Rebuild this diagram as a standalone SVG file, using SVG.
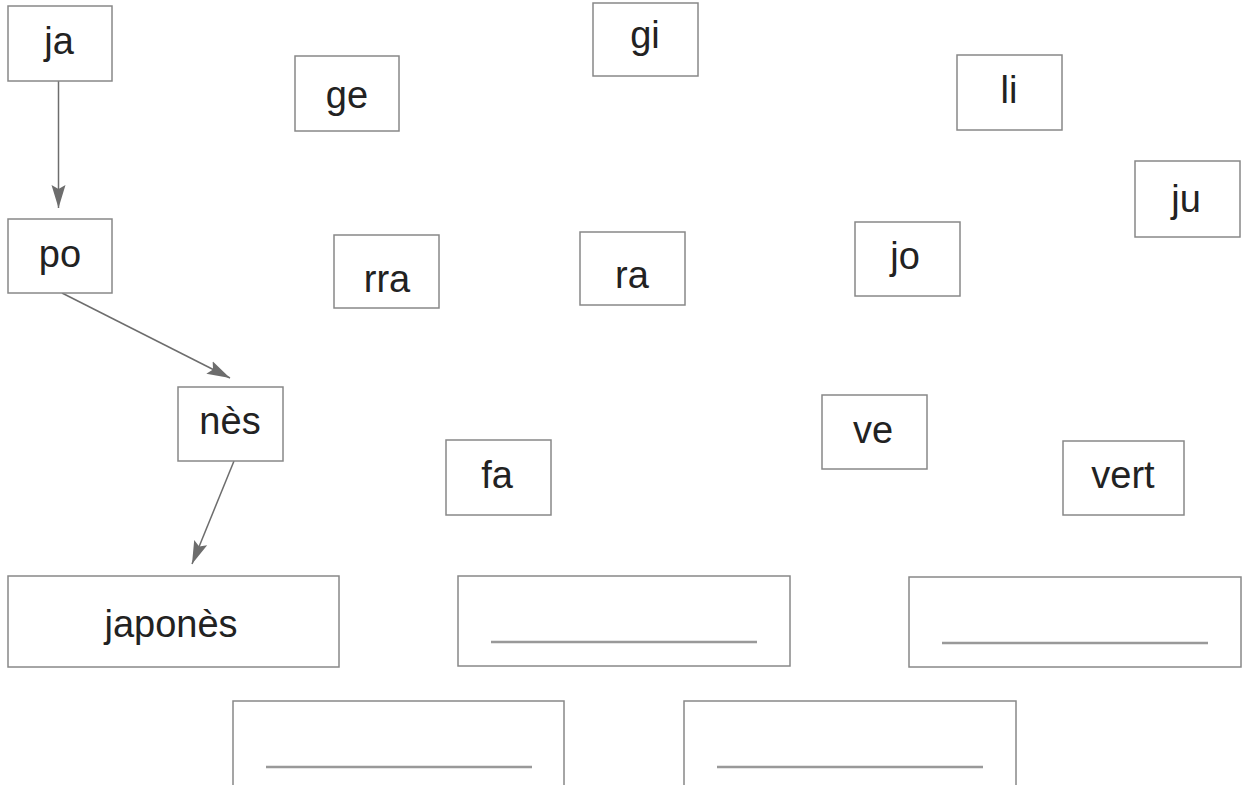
<svg xmlns="http://www.w3.org/2000/svg" width="1248" height="785" viewBox="0 0 1248 785">
<style>
.box{fill:#fff;stroke:#888;stroke-width:1.5}
.t{font-family:"Liberation Sans",Arial,sans-serif;font-size:38px;fill:#222;text-anchor:middle}
.blank{stroke:#999;stroke-width:2.5}
.edge{stroke:#6d6d6d;stroke-width:1.5;fill:none}
</style>
<defs>
<marker id="ah" viewBox="0 0 24 16" refX="23" refY="8" markerWidth="24" markerHeight="16" markerUnits="userSpaceOnUse" orient="auto">
<path d="M0,1 L23,8 L0,15 L4,8 z" fill="#6d6d6d"/>
</marker>
</defs>
<rect width="1248" height="785" fill="#fff"/>
<g id="connectors">
<line class="edge" x1="58.5" y1="81" x2="58.5" y2="208" marker-end="url(#ah)"/>
<line class="edge" x1="62" y1="293" x2="230" y2="378" marker-end="url(#ah)"/>
<line class="edge" x1="234" y1="461" x2="192" y2="564" marker-end="url(#ah)"/>
</g>
<g id="n-ja"><rect class="box" x="8" y="6" width="104" height="75"/><text class="t" x="59" y="54">ja</text></g>
<g id="n-ge"><rect class="box" x="295" y="56" width="104" height="75"/><text class="t" x="347" y="108">ge</text></g>
<g id="n-gi"><rect class="box" x="593" y="3" width="105" height="73"/><text class="t" x="645" y="48">gi</text></g>
<g id="n-li"><rect class="box" x="957" y="55" width="105" height="75"/><text class="t" x="1009" y="103">li</text></g>
<g id="n-ju"><rect class="box" x="1135" y="161" width="105" height="76"/><text class="t" x="1186" y="212">ju</text></g>
<g id="n-po"><rect class="box" x="8" y="219" width="104" height="74"/><text class="t" x="60" y="267">po</text></g>
<g id="n-rra"><rect class="box" x="334" y="235" width="105" height="73"/><text class="t" x="387" y="292">rra</text></g>
<g id="n-ra"><rect class="box" x="580" y="232" width="105" height="73"/><text class="t" x="632" y="288">ra</text></g>
<g id="n-jo"><rect class="box" x="855" y="222" width="105" height="74"/><text class="t" x="905" y="269">jo</text></g>
<g id="n-nes"><rect class="box" x="178" y="387" width="105" height="74"/><text class="t" x="230" y="434">nès</text></g>
<g id="n-ve"><rect class="box" x="822" y="395" width="105" height="74"/><text class="t" x="873" y="443">ve</text></g>
<g id="n-fa"><rect class="box" x="446" y="440" width="105" height="75"/><text class="t" x="497" y="488">fa</text></g>
<g id="n-vert"><rect class="box" x="1063" y="441" width="121" height="74"/><text class="t" x="1123" y="488">vert</text></g>
<g id="n-japones"><rect class="box" x="8" y="576" width="331" height="91"/><text class="t" x="171" y="637">japonès</text></g>
<g id="n-blank1"><rect class="box" x="458" y="576" width="332" height="90"/><line class="blank" x1="491" y1="642" x2="757" y2="642"/></g>
<g id="n-blank2"><rect class="box" x="909" y="577" width="332" height="90"/><line class="blank" x1="942" y1="643" x2="1208" y2="643"/></g>
<g id="n-blank3"><rect class="box" x="233" y="701" width="331" height="120"/><line class="blank" x1="266" y1="767" x2="532" y2="767"/></g>
<g id="n-blank4"><rect class="box" x="684" y="701" width="332" height="120"/><line class="blank" x1="717" y1="767" x2="983" y2="767"/></g>
</svg>
